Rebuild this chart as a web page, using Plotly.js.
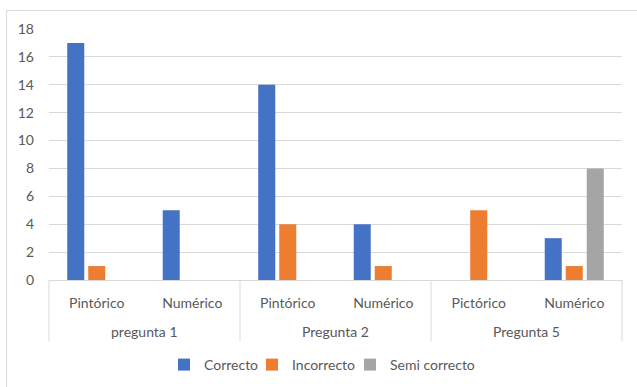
<!DOCTYPE html>
<html>
<head>
<meta charset="utf-8">
<script src="https://cdn.plot.ly/plotly-3.0.1.min.js"></script>
<style>
  html, body { margin: 0; padding: 0; background: #ffffff; overflow: hidden; }
  #frame { position: absolute; left: 6px; top: 10px; width: 640px; height: 400px;
           border-left: 1px solid #d9d9d9; border-top: 1px solid #d9d9d9; }
  #chart { position: absolute; left: 0; top: 0; width: 637px; height: 387px; }
</style>
</head>
<body>
<div id="frame"></div>
<div id="chart"></div>
<script>
// Question groups and representation type (two-level category axis)
const preguntas = ["pregunta 1", "pregunta 1", "Pregunta 2", "Pregunta 2", "Pregunta 5", "Pregunta 5"];
const tipos = ["Pintórico", "Numérico", "Pintórico", "Numérico", "Pictórico", "Numérico"];

// Answer counts per series
const correcto = [17, 5, 14, 4, 0, 3];
const incorrecto = [1, 0, 4, 1, 5, 1];
const semiCorrecto = [0, 0, 0, 0, 0, 8];

const yTicks = [0, 2, 4, 6, 8, 10, 12, 14, 16, 18];

const W = 637, H = 387;
const textColor = "#595959";
const gridColor = "#d9d9d9";
const fontFamily = "Lato, 'Open Sans', sans-serif";
const fontSize = 14;

// one slot per (question, type) pair along the x axis
const slots = tipos.map((_, i) => i);

// each series gets its own legend box so the entries sit compactly in a row
const legendLeft = [164, 252, 350];

function serie(name, values, color, idx) {
  return {
    type: "bar",
    name: name,
    x: slots,
    y: values,
    legend: idx === 0 ? "legend" : "legend" + (idx + 1),
    marker: { color: color, line: { width: 0 } },
    hoverinfo: "skip"
  };
}

const data = [
  serie("Correcto", correcto, "#4472c4", 0),
  serie("Incorrecto", incorrecto, "#ed7d31", 1),
  serie("Semi correcto", semiCorrecto, "#a5a5a5", 2)
];

// group spans: first/last slot of each question
const groups = [];
preguntas.forEach((g, i) => {
  const last = groups[groups.length - 1];
  if (last && last.name === g) last.end = i;
  else groups.push({ name: g, start: i, end: i });
});

const n = tipos.length;
const dividerDepth = -0.2435;   // how far the separators reach below the axis (paper units)

const shapes = [];
const boundaries = [0].concat(groups.map(g => g.end + 1));
boundaries.forEach(b => {
  shapes.push({
    type: "line", xref: "paper", yref: "paper",
    x0: b / n, x1: b / n, y0: 0, y1: dividerDepth,
    line: { color: gridColor, width: 1 }
  });
});

const annotations = groups.map(g => ({
  xref: "x", yref: "paper",
  x: (g.start + g.end) / 2, y: 0,
  yanchor: "middle", xanchor: "center",
  yshift: -51,
  showarrow: false,
  text: g.name,
  font: { family: fontFamily, size: fontSize, color: textColor }
}));

function legendBox(left) {
  return {
    orientation: "h",
    xref: "container", yref: "container",
    x: left / W, xanchor: "left",
    y: 1 - 365 / H, yanchor: "middle",
    bgcolor: "rgba(0,0,0,0)",
    font: { family: fontFamily, size: fontSize, color: textColor },
    itemclick: false
  };
}

const layout = {
  width: W,
  height: H,
  margin: { l: 49, r: 15, t: 29, b: 107 },
  paper_bgcolor: "rgba(0,0,0,0)",
  plot_bgcolor: "rgba(0,0,0,0)",
  font: { family: fontFamily, size: fontSize, color: textColor },
  barmode: "group",
  bargap: 0.34,
  bargroupgap: 0.19,
  showlegend: true,
  legend: legendBox(legendLeft[0]),
  legend2: legendBox(legendLeft[1]),
  legend3: legendBox(legendLeft[2]),
  xaxis: {
    range: [-0.5, n - 0.5],
    tickmode: "array",
    tickvals: slots,
    ticktext: tipos,
    showline: true,
    linecolor: gridColor,
    linewidth: 1,
    showgrid: false,
    zeroline: false,
    ticks: "",
    ticklabelstandoff: 10,
    automargin: false,
    tickfont: { family: fontFamily, size: fontSize, color: textColor }
  },
  yaxis: {
    range: [0, 18],
    tickvals: yTicks,
    ticktext: yTicks.map(String),
    showgrid: true,
    gridcolor: gridColor,
    gridwidth: 1,
    zeroline: false,
    showline: false,
    ticks: "",
    ticklabelstandoff: 14,
    automargin: false,
    tickfont: { family: fontFamily, size: fontSize, color: textColor }
  },
  shapes: shapes,
  annotations: annotations
};

Plotly.newPlot("chart", data, layout, { staticPlot: true, displayModeBar: false });
</script>
</body>
</html>
